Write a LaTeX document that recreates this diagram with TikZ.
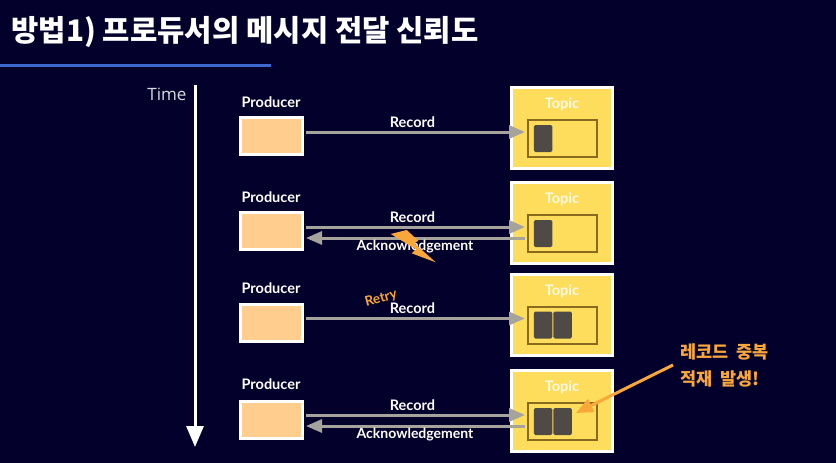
\documentclass[tikz,border=0pt]{standalone}
\usepackage{fontspec}
\usepackage{xcolor}
\usetikzlibrary{arrows.meta}
\setmainfont{Lato}
\newfontfamily\krfont{Noto Sans CJK KR}
\newfontfamily\timefont{Open Sans}
\definecolor{bgnavy}{HTML}{03012C}
\definecolor{rulebl}{HTML}{3F67D0}
\definecolor{prodfill}{HTML}{FFCD8E}
\definecolor{topicfill}{HTML}{FFDD5C}
\definecolor{partline}{HTML}{8A6A1E}
\definecolor{cellfill}{HTML}{4F4A45}
\definecolor{arrowgray}{HTML}{A6A29C}
\definecolor{warnorange}{HTML}{F9A63A}
\tikzset{
  prodbox/.style={draw=white,line width=3pt,fill=prodfill,minimum width=62pt,minimum height=37pt,inner sep=0pt},
  topicbox/.style={draw=white,line width=3pt,fill=topicfill,minimum width=101pt,minimum height=81pt,inner sep=0pt},
  partbox/.style={draw=partline,line width=2pt,minimum width=69pt,minimum height=37pt,inner sep=0pt},
  cellbox/.style={fill=cellfill,rounded corners=1.5pt,minimum width=18.5pt,minimum height=27pt,inner sep=0pt},
  msgarrow/.style={draw=arrowgray,line width=3pt,-{Triangle[length=16pt,width=13pt]}},
  prodlabel/.style={text=white,font=\fontsize{14.5}{16}\selectfont\bfseries},
  topiclabel/.style={text=white!85!topicfill,font=\fontsize{14.5}{16}\selectfont\bfseries},
  msglabel/.style={text=white,font=\fontsize{14.5}{16}\selectfont\bfseries},
  acklabel/.style={text=white,font=\fontsize{14}{16}\selectfont\bfseries},
}
\begin{document}
\begin{tikzpicture}[x=1pt,y=-1pt]
  \useasboundingbox (0,0) rectangle (836,463);
  \fill [bgnavy] (0,0) rectangle (836,463);
  % title
  \node (title) [anchor=west,text=white,font=\krfont\fontsize{29.7}{32}\selectfont\bfseries] at (8,32) {방법1) 프로듀서의 메시지 전달 신뢰도};
  \fill [rulebl] (0,64) rectangle (271,67);
  % time axis
  \node (timelabel) [text=white!85!bgnavy,font=\timefont\fontsize{17}{19}\selectfont] at (167,94) {Time};
  \coordinate (timetop) at (195,85);
  \coordinate (timeend) at (195,447);
  \draw [white,line width=3pt,-{Triangle[length=21pt,width=17pt]}] (timetop) -- (timeend);
  % row 1
  \node (prodA) [prodbox] at (271.5,136) {};
  \node (prodAlabel) [prodlabel] at (271,102) {Producer};
  \node (topicA) [topicbox] at (562,128) {};
  \node (topicAlabel) [topiclabel] at (562,104) {Topic};
  \node (partA) [partbox] at (562,138.5) {};
  \node (cellAa) [cellbox] at (543,138.5) {};
  \draw [msgarrow] ([xshift=2pt,yshift=4pt]prodA.east) -- ([xshift=-1.5pt,yshift=6.5pt]partA.west);
  \node (recA) [msglabel] at (412.5,122) {Record};
  % row 2
  \node (prodB) [prodbox] at (271.5,230.5) {};
  \node (prodBlabel) [prodlabel] at (271,197) {Producer};
  \node (topicB) [topicbox] at (562,222.5) {};
  \node (topicBlabel) [topiclabel] at (562,199) {Topic};
  \node (partB) [partbox] at (562,233.5) {};
  \node (cellBa) [cellbox] at (543,233.5) {};
  \draw [msgarrow] ([xshift=2pt,yshift=3.5pt]prodB.east) -- ([xshift=-1.5pt,yshift=6.5pt]partB.west);
  \draw [msgarrow] ([xshift=-1.5pt,yshift=-4.5pt]partB.west) -- ([xshift=2pt,yshift=-7.5pt]prodB.east);
  \node (recB) [msglabel] at (412.5,217) {Record};
  \node (ackB) [acklabel] at (415,247) {Acknowledgement};
  \fill [warnorange] (390.7,234) -- (406.7,230) -- (418.3,240.7) -- (414.3,243.3) -- (435.7,262.3) -- (411.7,253.3) -- (416,249.3) -- cycle;
  % row 3
  \node (prodC) [prodbox] at (271.5,323) {};
  \node (prodClabel) [prodlabel] at (271,288) {Producer};
  \node (topicC) [topicbox] at (562,314.5) {};
  \node (topicClabel) [topiclabel] at (562,291) {Topic};
  \node (partC) [partbox] at (562,325) {};
  \node (cellCa) [cellbox] at (543,325) {};
  \node (cellCb) [cellbox] at (562.5,325) {};
  \draw [msgarrow] ([xshift=2pt,yshift=4.5pt]prodC.east) -- ([xshift=-1.5pt,yshift=6.5pt]partC.west);
  \node (recC) [msglabel] at (412.5,308.5) {Record};
  \node (retry) [rotate=15,text=warnorange,font=\fontsize{13.5}{15}\selectfont\bfseries] at (381,298.5) {Retry};
  % row 4
  \node (prodD) [prodbox] at (271.5,419.5) {};
  \node (prodDlabel) [prodlabel] at (271,384) {Producer};
  \node (topicD) [topicbox] at (562,410.5) {};
  \node (topicDlabel) [topiclabel] at (562,387) {Topic};
  \node (partD) [partbox] at (562,421.5) {};
  \node (cellDa) [cellbox] at (543,421.5) {};
  \node (cellDb) [cellbox] at (562.5,421.5) {};
  \draw [msgarrow] ([xshift=2pt,yshift=4.5pt]prodD.east) -- ([xshift=-1.5pt,yshift=6.5pt]partD.west);
  \draw [msgarrow] ([xshift=-1.5pt,yshift=-4.5pt]partD.west) -- ([xshift=2pt,yshift=-6.5pt]prodD.east);
  \node (recD) [msglabel] at (412.5,405) {Record};
  \node (ackD) [acklabel] at (415,435) {Acknowledgement};
  % duplicate note
  \node (dupnote) [anchor=west,align=left,text=warnorange,font=\krfont\fontsize{17.5}{27}\selectfont\bfseries] at (676.5,365.5) {레코드\ \ 중복\\적재\ \ 발생!};
  \coordinate (dupstart) at (673,365);
  \draw [warnorange,line width=3pt,-{Triangle[length=17pt,width=14pt]}] (dupstart) -- ([xshift=4pt,yshift=8.5pt]cellDb.east);
\end{tikzpicture}
\end{document}
